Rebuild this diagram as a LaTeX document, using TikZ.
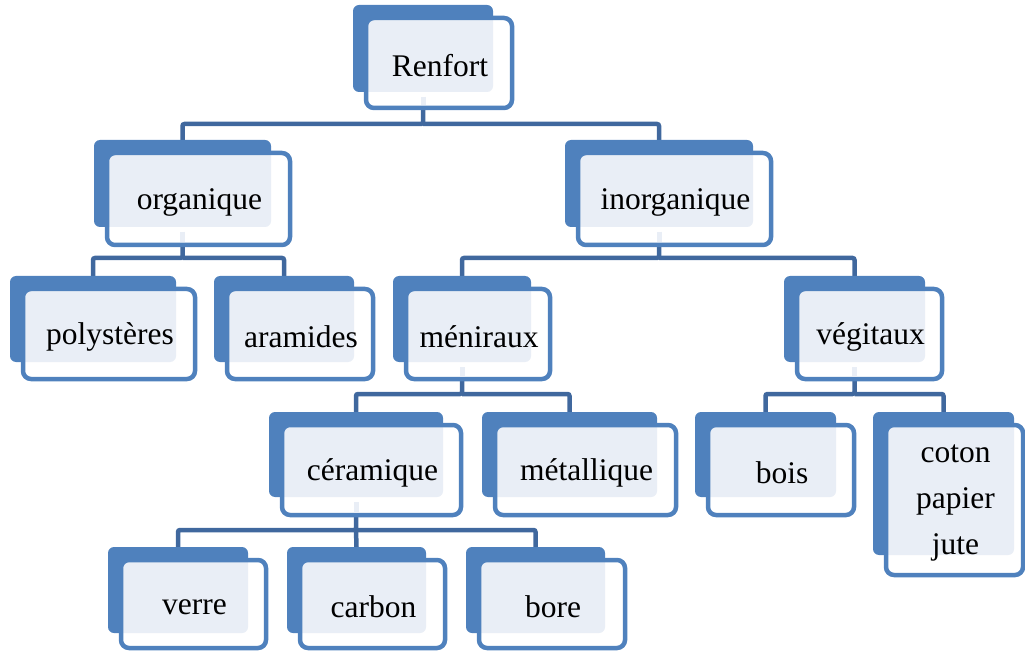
\documentclass[tikz,border=0pt]{standalone}
\usepackage{fontspec}
\setmainfont{Liberation Serif}
\usetikzlibrary{backgrounds}
\definecolor{backcol}{RGB}{79,129,189}
\definecolor{framecol}{RGB}{79,129,189}
\definecolor{lightcol}{RGB}{233,238,246}
\definecolor{conncol}{RGB}{64,104,158}
\tikzset{
  backbox/.style={fill=backcol, rounded corners=6pt, inner sep=0pt, outer sep=0pt},
  frontbox/.style={draw=framecol, line width=4.5pt, rounded corners=8pt, inner sep=0pt, outer sep=0pt},
  boxtext/.style={inner sep=0pt, font=\fontsize{31.5}{46}\selectfont, align=center, text=black},
  conn/.style={draw=conncol, line width=4.5pt, rounded corners=2pt},
  lightline/.style={draw=lightcol, line width=5pt, shorten <=5pt, shorten >=2.5pt}
}
% #1 name, #2 x1, #3 y1, #4 x2, #5 y2 (back rect), #6 front right, #7 front bottom, #8 text
\newcommand\drawbox[8]{%
  \node[backbox, minimum width={(#4-#2)*1pt}, minimum height={(#5-#3)*1pt}]
     (#1-b) at ({(#2+#4)/2},{(#3+#5)/2}) {};
  \fill[white, rounded corners=8pt] (#2+13,#3+13) rectangle (#6,#7);
  \begin{scope}
    \clip[rounded corners=6pt] (#2,#3) rectangle (#4,#5);
    \fill[lightcol, rounded corners=6pt] (#2+13,#3+13) rectangle (#6,#7);
  \end{scope}
  \node[frontbox, minimum width={(#6-#2-13)*1pt}, minimum height={(#7-#3-13)*1pt}]
     (#1) at ({(#2+13+#6)/2},{(#3+13+#7)/2}) {};
  \node[boxtext] (#1-t) at ([xshift=1pt,yshift=-3pt]#1.center) {#8};
}
\begin{document}
\begin{tikzpicture}[x=1pt,y=-1pt]
\useasboundingbox (0,0) rectangle (1025,652);
\drawbox{ren}{353}{5}{493}{92}{512}{108}{Renfort}
\drawbox{org}{94}{140}{271}{227}{290}{245}{organique}
\drawbox{ino}{565}{140}{753}{227}{771}{245}{inorganique}
\drawbox{pol}{10}{276}{176}{362}{195}{379}{polystères}
\drawbox{ara}{214}{276}{354}{362}{373}{379}{aramides}
\drawbox{men}{393}{276}{531}{362}{550}{379}{méniraux}
\drawbox{veg}{784}{276}{925}{362}{942}{379}{végitaux}
\drawbox{cer}{269}{412}{443}{497}{461}{515}{céramique}
\drawbox{met}{482}{412}{657}{497}{676}{515}{métallique}
\drawbox{boi}{695}{412}{836}{497}{854}{515}{bois}
\drawbox{cot}{873}{412}{1014}{555}{1023}{575}{coton\\papier\\jute}
\drawbox{ver}{108}{547}{248}{633}{266}{648}{verre}
\drawbox{car}{287}{547}{426}{633}{445}{648}{carbon}
\drawbox{bor}{466}{547}{605}{633}{625}{648}{bore}
\coordinate (bar1) at (0,124);
\coordinate (bar2) at (0,258);
\coordinate (bar3) at (0,394);
\coordinate (bar4) at (0,530);
\begin{pgfonlayer}{background}
  \draw[conn] (ren-b.south) -- (ren-b.south |- bar1) -| (org-b.north);
  \draw[conn] (ren-b.south |- bar1) -| (ino-b.north);
  \draw[conn] (org-b.south) -- (org-b.south |- bar2) -| (pol-b.north);
  \draw[conn] (org-b.south |- bar2) -| (ara-b.north);
  \draw[conn] (ino-b.south) -- (ino-b.south |- bar2) -| (men-b.north);
  \draw[conn] (ino-b.south |- bar2) -| (veg-b.north);
  \draw[conn] (men-b.south) -- (men-b.south |- bar3) -| (cer-b.north);
  \draw[conn] (men-b.south |- bar3) -| (met-b.north);
  \draw[conn] (veg-b.south) -- (veg-b.south |- bar3) -| (boi-b.north);
  \draw[conn] (veg-b.south |- bar3) -| (cot-b.north);
  \draw[conn] (cer-b.south) -- (cer-b.south |- bar4) -| (ver-b.north);
  \draw[conn] (cer-b.south |- bar4) -- (car-b.north);
  \draw[conn] (cer-b.south |- bar4) -| (bor-b.north);
\end{pgfonlayer}
\draw[lightline] (ren-b.south) -- (ren-b.south |- ren.south);
\draw[lightline] (org-b.south) -- (org-b.south |- org.south);
\draw[lightline] (ino-b.south) -- (ino-b.south |- ino.south);
\draw[lightline] (men-b.south) -- (men-b.south |- men.south);
\draw[lightline] (veg-b.south) -- (veg-b.south |- veg.south);
\draw[lightline] (cer-b.south) -- (cer-b.south |- cer.south);
\end{tikzpicture}
\end{document}
